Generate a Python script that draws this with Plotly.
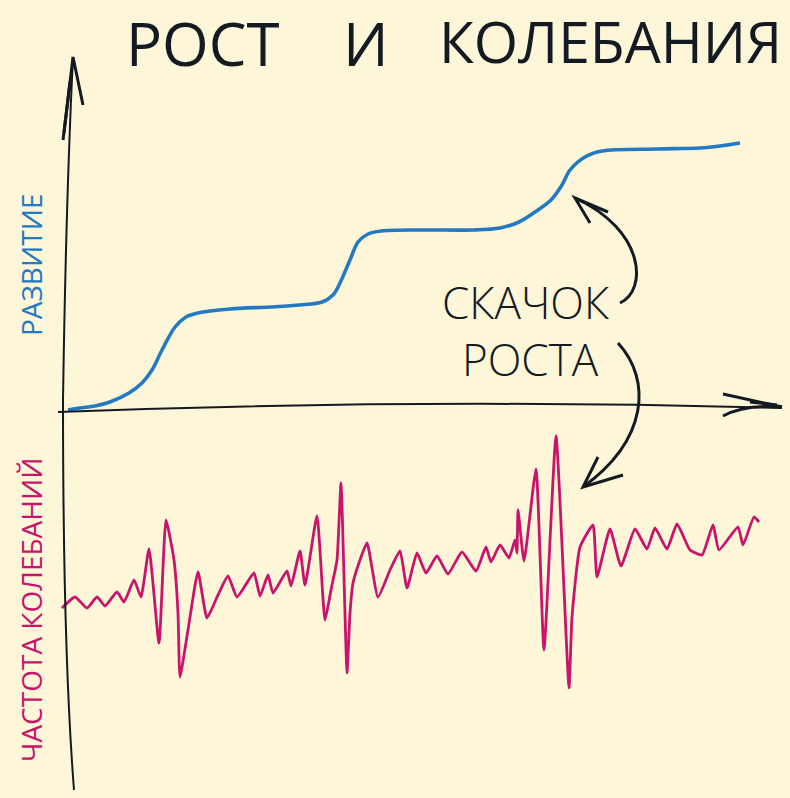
import plotly.graph_objects as go

W, H = 790, 798
BG = "#fdf6d9"
BLUE = "#2379c2"
PINK = "#c8156b"
INK = "#141a22"

# ---- data ----
# "Развитие" (growth) curve: time vs development level
growth_t = [6, 18, 33, 48, 67, 80, 90, 100, 113, 124, 136, 168, 208, 238, 260, 271, 278, 288, 296, 306,
            319, 358, 411, 438, 457, 473, 489, 500, 508, 523, 540, 595, 638, 658, 678]
growth_v = [0, 2, 4, 8, 17, 27, 40, 60, 83, 93, 97, 101, 103, 105, 108, 115, 127, 150, 168, 176,
            179, 180, 180, 182, 188, 198, 210, 225, 240, 253, 259, 261, 262, 264, 267]

# "Частота колебаний" (oscillation) curve: time vs oscillation value
osc_t = [0, 13, 25, 35, 43, 55, 62, 72, 79, 87, 97, 104, 112, 116, 118, 126, 136, 145, 156, 166,
         175, 192, 198, 206, 211, 225, 229, 238, 243, 255, 263, 269, 275, 279, 285, 288, 291, 298, 305, 316,
         328, 338, 345, 355, 364, 375, 386, 400, 414, 424, 429, 438, 447, 453, 455, 456, 462, 474, 482, 494,
         507, 510, 518, 531, 535, 548, 559, 573, 585, 593, 605, 615, 628, 640, 651, 657, 676, 681, 692, 697]
osc_v = [0, 11, 0, 11, 2, 16, 6, 28, 11, 59, -35, 88, 48, -5, -69, -22, 36, -10, 13, 32,
         11, 35, 12, 33, 15, 37, 22, 57, 23, 92, -12, 18, 48, 125, -65, -5, 25, 48, 65, 11,
         38, 57, 20, 55, 35, 52, 34, 56, 37, 61, 46, 63, 50, 68, 55, 98, 47, 139, -42, 172,
         -80, -9, 61, 83, 31, 79, 42, 79, 59, 80, 59, 84, 58, 53, 83, 58, 81, 63, 91, 86]

title_words = ["РОСТ", "И", "КОЛЕБАНИЯ"]
y_label_growth = "РАЗВИТИЕ"
y_label_osc = "ЧАСТОТА КОЛЕБАНИЙ"
note_lines = ["СКАЧОК", "РОСТА"]

assert len(growth_t) == len(growth_v) and len(osc_t) == len(osc_v)

# ---- helpers for decorative sketch strokes (paper coordinates) ----
def px(x):
    return x / W

def py(y):
    return 1 - y / H

def path(cmds):
    out = []
    for c in cmds:
        if isinstance(c, str):
            out.append(c)
        else:
            out.append(f"{px(c[0]):.5f},{py(c[1]):.5f}")
    return " ".join(out)

fig = go.Figure()
fig.add_trace(go.Scatter(x=growth_t, y=growth_v, mode="lines",
                         line=dict(color=BLUE, width=3.6, shape="spline", smoothing=0.9),
                         hoverinfo="skip", yaxis="y"))
fig.add_trace(go.Scatter(x=osc_t, y=osc_v, mode="lines",
                         line=dict(color=PINK, width=2.8, shape="spline", smoothing=0.45),
                         hoverinfo="skip", yaxis="y2"))

stroke = dict(color=INK, width=2)
thick = dict(color=INK, width=3)
shapes = [
    # vertical axis
    dict(type="path", xref="paper", yref="paper", line=stroke,
         path=path(["M", (73, 57), "Q", (66, 200), (63, 400), "Q", (63, 650), (74, 790)])),
    dict(type="path", xref="paper", yref="paper", line=thick,
         path=path(["M", (64, 133), "L", (73, 57), "L", (83, 105)])),
    dict(type="path", xref="paper", yref="paper", line=thick,
         path=path(["M", (63, 140), "L", (70, 82)])),
    # horizontal axis
    dict(type="path", xref="paper", yref="paper", line=stroke,
         path=path(["M", (58, 412), "Q", (420, 398), (782, 408)])),
    dict(type="path", xref="paper", yref="paper", line=thick,
         path=path(["M", (723, 394), "L", (782, 407)])),
    dict(type="path", xref="paper", yref="paper", line=thick,
         path=path(["M", (723, 416), "Q", (745, 404), (782, 407)])),
    dict(type="path", xref="paper", yref="paper", line=thick,
         path=path(["M", (750, 402), "L", (777, 405)])),
    # arrow to growth jump
    dict(type="path", xref="paper", yref="paper", line=thick,
         path=path(["M", (620, 303), "C", (648, 290), (645, 230), (575, 198)])),
    dict(type="path", xref="paper", yref="paper", line=thick,
         path=path(["M", (590, 223), "L", (575, 198), "L", (608, 212)])),
    # arrow to oscillation burst
    dict(type="path", xref="paper", yref="paper", line=thick,
         path=path(["M", (618, 343), "C", (652, 380), (648, 440), (583, 487)])),
    dict(type="path", xref="paper", yref="paper", line=thick,
         path=path(["M", (598, 457), "L", (583, 487), "L", (623, 475)])),
]

TFONT = "Open Sans, sans-serif"
annotations = []
for word, cx, sz in zip(title_words, [203, 366, 610], [60, 60, 57]):
    annotations.append(dict(text=word, x=px(cx), y=py(1), xref="paper", yref="paper",
                            xanchor="center", yanchor="top", showarrow=False, borderpad=0,
                            font=dict(family=TFONT, size=sz, color=INK)))
for line, cy, cx in zip(note_lines, [302, 359], [525, 530]):
    annotations.append(dict(text=line, x=px(cx), y=py(cy), xref="paper", yref="paper",
                            xanchor="center", yanchor="middle", showarrow=False,
                            font=dict(family=TFONT, size=44, color=INK, weight=300)))
annotations.append(dict(text=y_label_growth, x=px(31), y=py(265), xref="paper", yref="paper",
                        xanchor="center", yanchor="middle", showarrow=False, textangle=-90,
                        font=dict(family=TFONT, size=28, color=BLUE)))
annotations.append(dict(text=y_label_osc, x=px(31), y=py(610), xref="paper", yref="paper",
                        xanchor="center", yanchor="middle", showarrow=False, textangle=-90,
                        font=dict(family=TFONT, size=28, color=PINK)))

fig.update_layout(
    width=W, height=H,
    margin=dict(l=0, r=0, t=0, b=0),
    paper_bgcolor=BG, plot_bgcolor=BG,
    showlegend=False,
    xaxis=dict(range=[-62, 728], visible=False, fixedrange=True),
    yaxis=dict(range=[-388, 410], visible=False, fixedrange=True),
    yaxis2=dict(range=[-190, 608], visible=False, overlaying="y", fixedrange=True),
    shapes=shapes,
    annotations=annotations,
)

fig.write_html("out.html", config={"displayModeBar": False},
               post_script="document.body.style.margin='0';document.body.style.background='" + BG + "';")
